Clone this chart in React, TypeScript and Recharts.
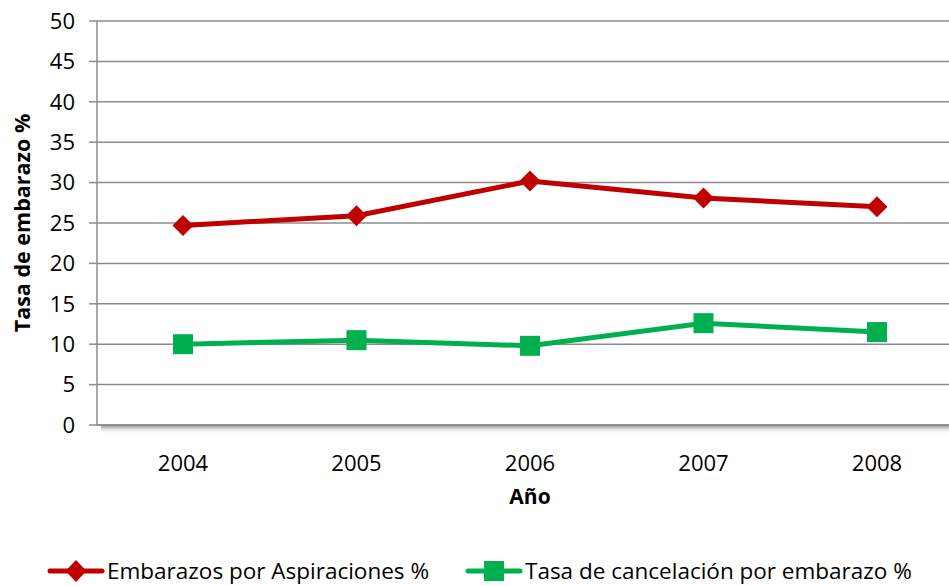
import { CartesianGrid, Legend, Line, LineChart, ReferenceLine, XAxis, YAxis } from "recharts";

const years = ["2004", "2005", "2006", "2007", "2008"];
const aspiraciones = [24.7, 25.9, 30.2, 28.1, 27.0];
const cancelacion = [10.0, 10.5, 9.8, 12.6, 11.5];
const yTicks = [0, 5, 10, 15, 20, 25, 30, 35, 40, 45, 50];

const red = "#c00000";
const green = "#00b050";
const font = "'Open Sans', sans-serif";

const data = years.map((year, i) => ({
  year,
  aspiraciones: aspiraciones[i],
  cancelacion: cancelacion[i],
}));

function Diamond({ cx, cy }: { cx?: number; cy?: number }) {
  if (cx == null || cy == null) return null;
  const r = 10.5;
  return <polygon points={`${cx},${cy - r} ${cx + r},${cy} ${cx},${cy + r} ${cx - r},${cy}`} fill={red} />;
}

function Square({ cx, cy }: { cx?: number; cy?: number }) {
  if (cx == null || cy == null) return null;
  return <rect x={cx - 10} y={cy - 10} width={20} height={20} fill={green} />;
}

function AxisShadow(props: any) {
  const { x1, x2, y1 } = props;
  return (
    <g>
      <defs>
        <linearGradient id="axisShadow" x1="0" y1="0" x2="0" y2="1">
          <stop offset="0%" stopColor="#8a8a8a" />
          <stop offset="100%" stopColor="#ffffff" stopOpacity={0} />
        </linearGradient>
      </defs>
      <rect x={x1 + 4} y={y1} width={x2 - x1} height={9} fill="url(#axisShadow)" />
      <line x1={x1} x2={x2} y1={y1} y2={y1} stroke="#8c8c8c" strokeWidth={1.5} />
    </g>
  );
}

function LegendContent() {
  const item = (color: string, marker: "diamond" | "square", label: string, x: number) => (
    <div style={{ position: "absolute", left: x, top: 2, height: 26, display: "flex", alignItems: "center" }}>
      <svg width={58} height={24}>
        <line x1={3} x2={55} y1={12} y2={12} stroke={color} strokeWidth={5} strokeLinecap="round" />
        {marker === "diamond" ? (
          <polygon points="29,1 39.5,12 29,23 18.5,12" fill={color} />
        ) : (
          <rect x={19} y={2} width={20} height={20} fill={color} />
        )}
      </svg>
      <span style={{ fontFamily: font, fontSize: 22.5, lineHeight: 1, color: "#000", whiteSpace: "nowrap", marginLeft: 2 }}>
        {label}
      </span>
    </div>
  );
  return (
    <div style={{ position: "relative", height: 30, width: 949 }}>
      {item(red, "diamond", "Embarazos por Aspiraciones %", 47)}
      {item(green, "square", "Tasa de cancelación por embarazo %", 465)}
    </div>
  );
}

export default function App() {
  return (
    <div style={{ position: "fixed", left: 0, top: 0, width: 949, height: 586, overflow: "hidden", background: "#fff" }}>
      <LineChart width={980} height={586} data={data} margin={{ top: 21, right: 17, bottom: 0, left: 0 }}>
        <CartesianGrid stroke="#8c8c8c" strokeWidth={1.5} vertical={false} />
        <XAxis
          dataKey="year"
          axisLine={false}
          tickLine={false}
          height={131}
          padding={{ left: 86, right: 86 }}
          tick={{ fill: "#000", fontSize: 22, fontFamily: font }}
          tickMargin={24}
          label={{ value: "Año", position: "insideTop", offset: 64, fill: "#000", fontSize: 21, fontWeight: 700, fontFamily: font }}
        />
        <YAxis
          domain={[0, 50]}
          ticks={yTicks}
          width={97}
          axisLine={{ stroke: "#8c8c8c", strokeWidth: 1.5 }}
          tickLine={{ stroke: "#8c8c8c", strokeWidth: 1.5 }}
          tickSize={8}
          tickMargin={14}
          tick={{ fill: "#000", fontSize: 22, fontFamily: font }}
          label={{
            value: "Tasa de embarazo %",
            angle: -90,
            position: "insideLeft",
            offset: 22,
            style: { textAnchor: "middle" },
            fill: "#000",
            fontSize: 21.5,
            fontWeight: 700,
            fontFamily: font,
          }}
        />
        <ReferenceLine y={0} shape={AxisShadow} />
        <Legend height={30} verticalAlign="bottom" content={<LegendContent />} wrapperStyle={{ left: 0, top: 556, width: 949, height: 30 }} />
        <Line
          dataKey="aspiraciones"
          name="Embarazos por Aspiraciones %"
          stroke={red}
          strokeWidth={5}
          dot={<Diamond />}
          activeDot={false}
          isAnimationActive={false}
        />
        <Line
          dataKey="cancelacion"
          name="Tasa de cancelación por embarazo %"
          stroke={green}
          strokeWidth={5}
          dot={<Square />}
          activeDot={false}
          isAnimationActive={false}
        />
      </LineChart>
    </div>
  );
}
